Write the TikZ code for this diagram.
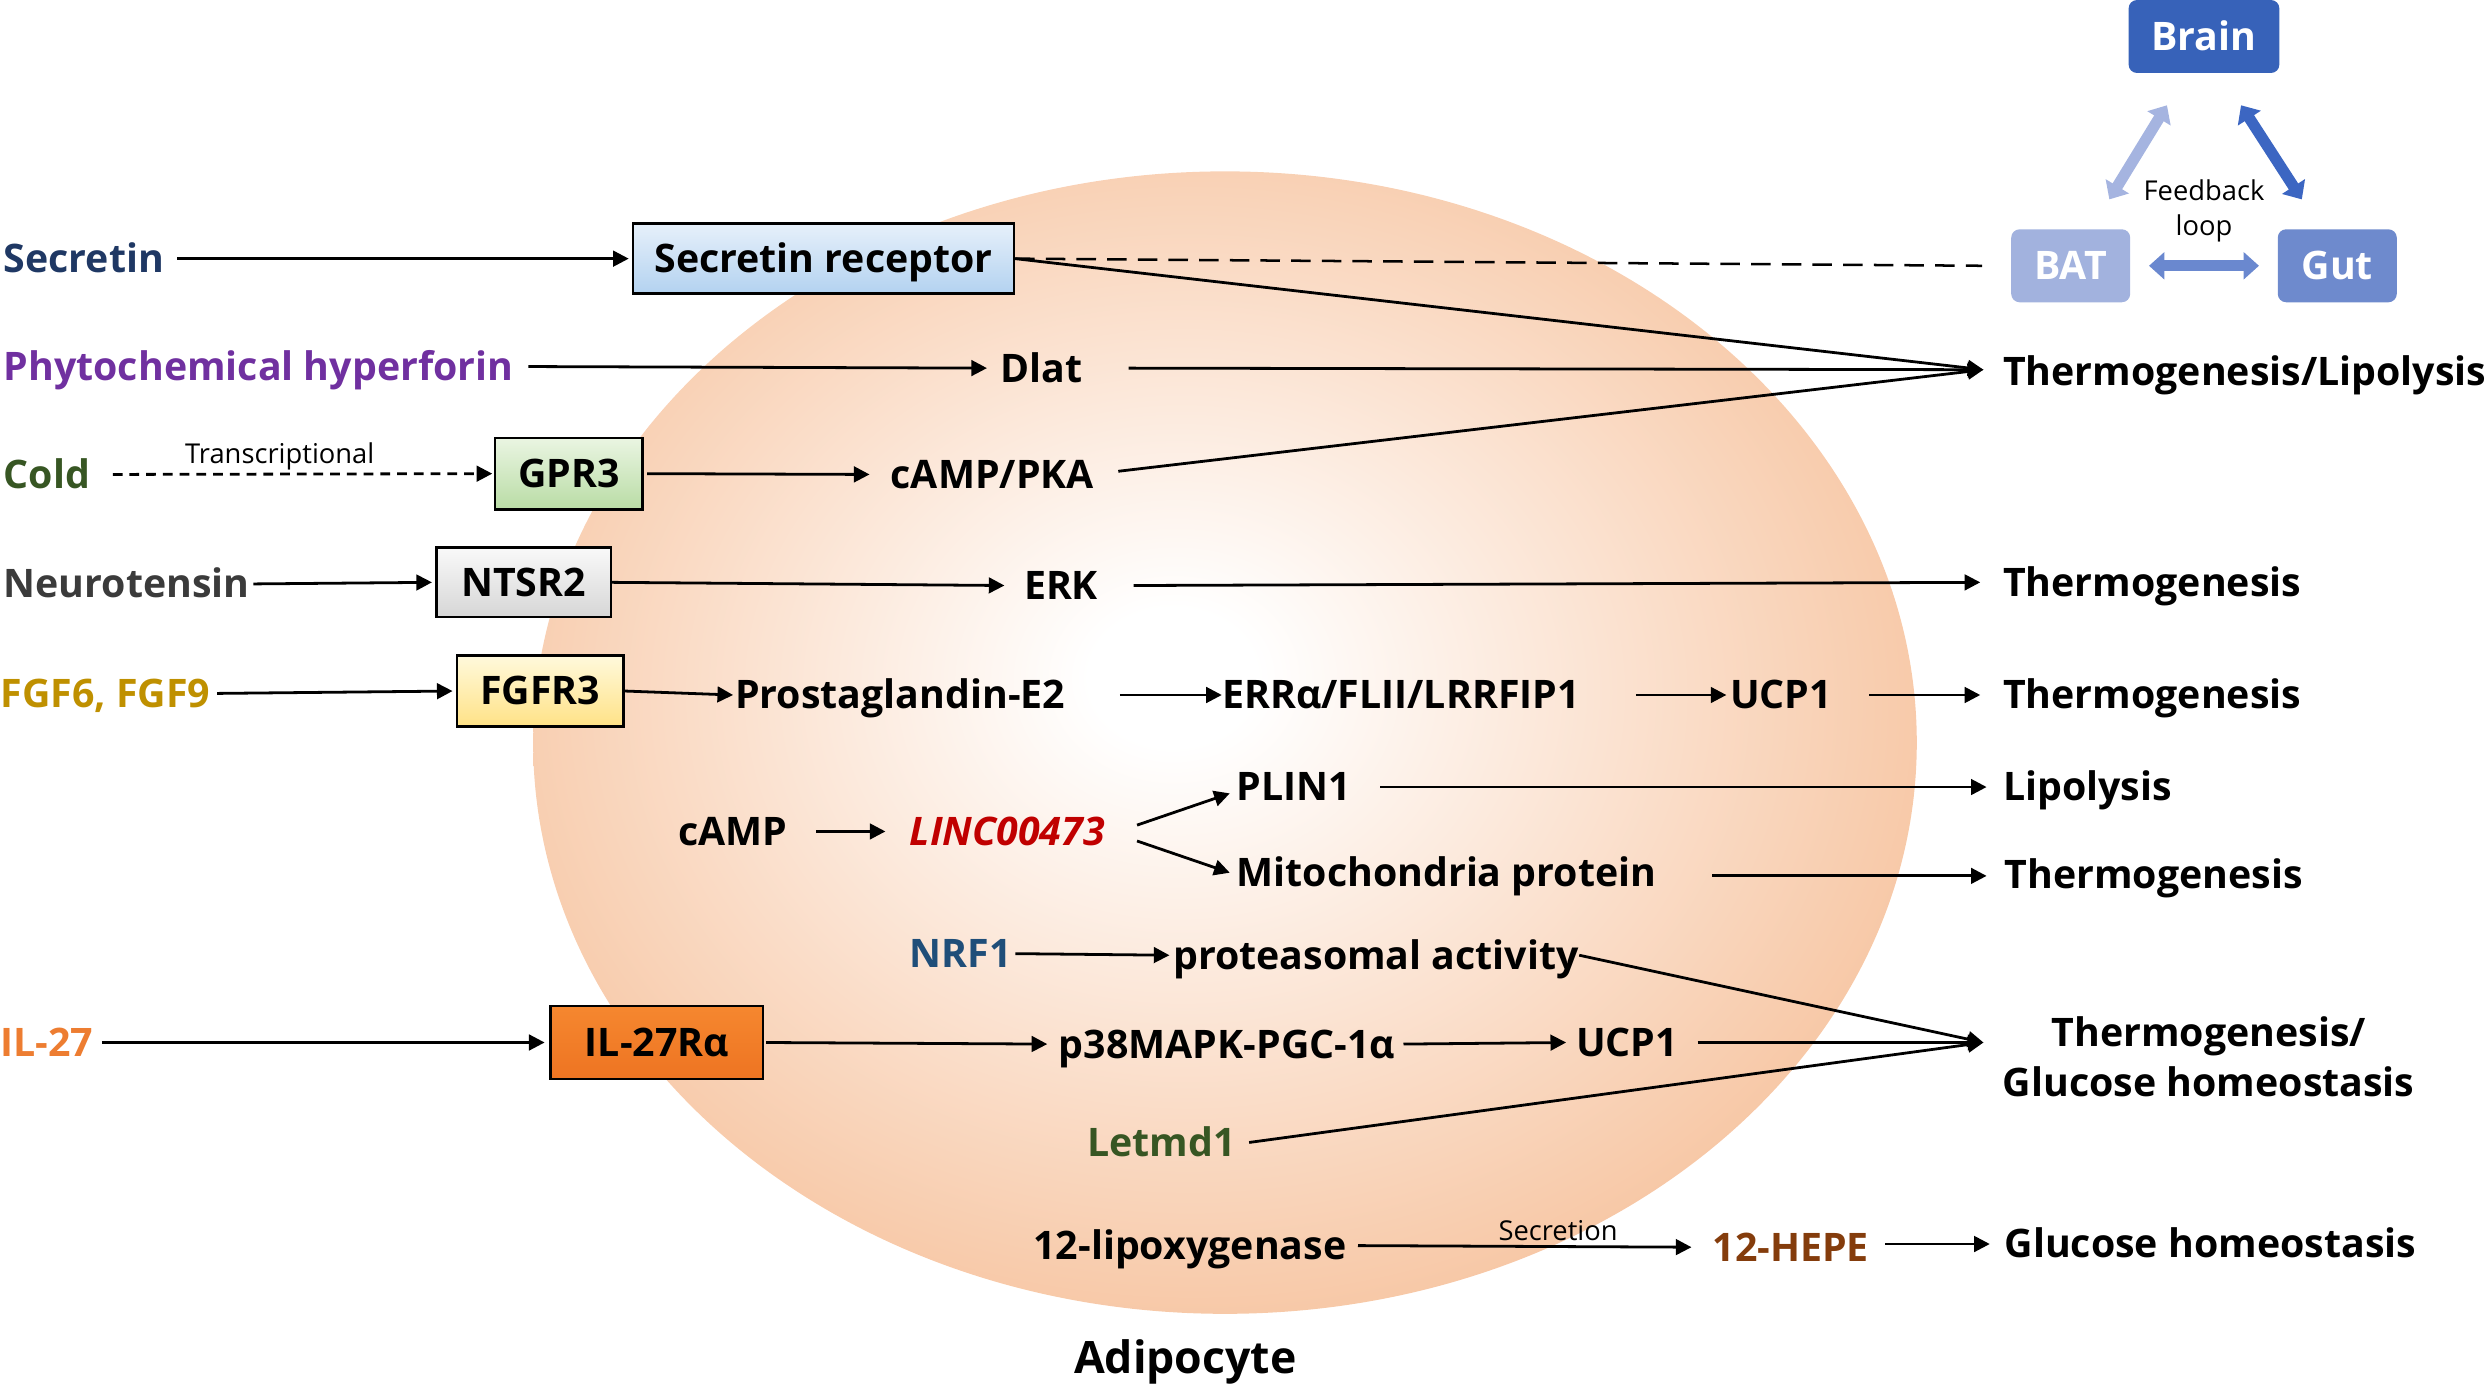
\documentclass[tikz,border=0pt]{standalone}
\usepackage{fontspec}
\setmainfont{Open Sans}
\usetikzlibrary{arrows.meta,calc}
\definecolor{peach}{HTML}{F6BF98}
\definecolor{peachdk}{HTML}{F4B88D}
\definecolor{cnavy}{HTML}{1F3864}
\definecolor{cpurple}{HTML}{7030A0}
\definecolor{cgreen}{HTML}{375623}
\definecolor{cgray}{HTML}{3B3B3B}
\definecolor{cgold}{HTML}{BF9000}
\definecolor{cred}{HTML}{C00000}
\definecolor{cblue}{HTML}{1F4E79}
\definecolor{corange}{HTML}{ED7D31}
\definecolor{cbrown}{HTML}{843C0C}
\definecolor{brainc}{HTML}{3762B9}
\definecolor{batc}{HTML}{A2B2DE}
\definecolor{gutc}{HTML}{6E8ACD}
\definecolor{arrbat}{HTML}{A5B4E0}
\definecolor{arrgut}{HTML}{3C66C2}
\definecolor{arrbg}{HTML}{6A88CF}
\definecolor{srtop}{HTML}{E6F0FA}
\definecolor{srbot}{HTML}{B3D2F0}
\definecolor{gptop}{HTML}{EAF5E2}
\definecolor{gpbot}{HTML}{B9DCA5}
\definecolor{nttop}{HTML}{F9F9F9}
\definecolor{ntbot}{HTML}{D6D6D6}
\definecolor{fgtop}{HTML}{FFF9DC}
\definecolor{fgbot}{HTML}{FFE286}
\definecolor{iltop}{HTML}{F5872F}
\definecolor{ilbot}{HTML}{EE7422}
\pgfdeclareradialshading{adipo}{\pgfpoint{-2bp}{3bp}}{color(0bp)=(white); color(3bp)=(white); color(31bp)=(peach); color(36bp)=(peachdk); color(60bp)=(peachdk)}
\newcommand\labfont{\fontsize{14.1}{16}\selectfont\bfseries}
\newcommand\smallfont{\fontsize{9.8}{12.5}\selectfont}
\begin{document}
\begin{tikzpicture}[x=0.02cm,y=-0.02cm,
  lab/.style={inner sep=0pt, anchor=west, font=\labfont, text height=10pt, text depth=0pt},
  box/.style={draw=black, line width=0.9pt, inner sep=0pt, font=\labfont, text height=10pt, text depth=0pt},
  fbox/.style={rounded corners=3pt, inner sep=0pt, font=\labfont, text=white, text height=10pt, text depth=0pt, minimum height=0.92cm},
  smalllab/.style={inner sep=0pt, font=\smallfont},
  arr/.style={-{Triangle[length=5.6pt,width=5.6pt]}, line width=1pt},
  ln/.style={line width=1pt},
  fb/.style={{Triangle[length=5.5pt,width=9.5pt]}-{Triangle[length=5.5pt,width=9.5pt]}, line width=4pt}
]
\useasboundingbox (0,0) rectangle (1568,876);
\shade[shading=adipo] (772,468) ellipse [x radius=436, y radius=360];

% feedback loop
\node[fbox, fill=brainc, minimum width=1.9cm] (brain) at (1389,23) {Brain};
\node[fbox, fill=batc, minimum width=1.5cm] (bat) at (1305,167.5) {BAT};
\node[fbox, fill=gutc, minimum width=1.5cm] (gut) at (1473,167.5) {Gut};
\node[smalllab, align=center] (fbl) at (1389,133) {Feedback\\loop};
\draw[fb, arrbat] ($(bat.north east)+(-13.5,-18.5)$) -- ($(brain.south west)+(24.5,20)$);
\draw[fb, arrgut] ($(brain.south east)+(-24.5,20)$) -- ($(gut.north west)+(15.5,-18.5)$);
\draw[fb, arrbg] ($(bat.east)+(11.5,0)$) -- ($(gut.west)+(-11.5,0)$);

% row 1
\node[lab, text=cnavy] (secretin) at (2,163) {Secretin};
\node[box, top color=srtop, bottom color=srbot, minimum width=4.8cm, minimum height=0.88cm] (srec) at (519,163) {Secretin receptor};
% row 2
\node[lab, text=cpurple] (hyper) at (2,231) {Phytochemical hyperforin};
\node[lab] (dlat) at (630,232) {Dlat};
\node[lab] (tl) at (1262,234) {Thermogenesis/Lipolysis};
\coordinate (tlin) at ($(tl.west)+(-12,-1)$);
% row 3
\node[lab, text=cgreen] (cold) at (2,299) {Cold};
\node[box, top color=gptop, bottom color=gpbot, minimum width=1.86cm, minimum height=0.9cm] (gpr3) at (358.5,298.5) {GPR3};
\node[lab] (camppka) at (561,299) {cAMP/PKA};
% row 4
\node[lab, text=cgray] (neuro) at (2,368) {Neurotensin};
\node[box, top color=nttop, bottom color=ntbot, minimum width=2.2cm, minimum height=0.88cm] (ntsr2) at (330,367) {NTSR2};
\node[lab] (erk) at (645,369) {ERK};
\node[lab] (thermoA) at (1262,367) {Thermogenesis};
% row 5
\node[lab, text=cgold] (fgf) at (0,437) {FGF6, FGF9};
\node[box, top color=fgtop, bottom color=fgbot, minimum width=2.1cm, minimum height=0.9cm] (fgfr3) at (340.5,435.5) {FGFR3};
\node[lab] (pge2) at (463,438) {Prostaglandin-E2};
\node[lab] (err) at (770,438) {ERRα/FLII/LRRFIP1};
\node[lab] (ucpA) at (1090,438) {UCP1};
\node[lab] (thermoB) at (1262,438) {Thermogenesis};
% row 6
\node[lab] (camp) at (427,524) {cAMP};
\node[lab, text=cred, font=\labfont\itshape] (linc) at (573,524) {LINC00473};
\node[lab] (plin1) at (779,496) {PLIN1};
\node[lab] (lipo) at (1262,496) {Lipolysis};
\node[lab] (mito) at (779,550) {Mitochondria protein};
\node[lab] (thermoC) at (1263,551) {Thermogenesis};
% row 7
\node[lab, text=cblue] (nrf1) at (573,601) {NRF1};
\node[lab] (proteo) at (739,602) {proteasomal activity};
% row 8
\node[lab, text=corange] (il27) at (0,657) {IL-27};
\node[box, top color=iltop, bottom color=ilbot, minimum width=2.68cm, minimum height=0.92cm] (il27r) at (414,657) {IL-27Rα};
\node[lab] (p38) at (667,658) {p38MAPK-PGC-1α};
\node[lab] (ucpB) at (993,657) {UCP1};
\node[inner sep=0pt, font=\labfont, align=center] (tg) at (1392,666) {Thermogenesis/\\[2pt]Glucose homeostasis};
\coordinate (tgin) at (1250,657);
% row 9
\node[lab, text=cgreen] (letmd1) at (685,720) {Letmd1};
% row 10
\node[lab] (lox) at (651,785) {12-lipoxygenase};
\node[lab, text=cbrown] (hepe) at (1079,786) {12-HEPE};
\node[lab] (glu) at (1263,784) {Glucose homeostasis};
\node[inner sep=0pt, font=\fontsize{16}{18}\selectfont\bfseries] (adipocyte) at (747,858) {Adipocyte};

% connectors
\draw[arr] ($(secretin.east)+(8,0)$) -- ($(srec.west)+(-2,0)$);
\draw[arr] (srec.east) -- (tlin);
\draw[ln, dash pattern=on 7pt off 4pt, line width=0.9pt] (srec.east) -- ($(bat.west)+(-18,0)$);
\draw[arr] ($(hyper.east)+(9,0)$) -- ($(dlat.west)+(-8,0)$);
\draw[arr] ($(dlat.east)+(29,0)$) -- (tlin);
\draw[arr, dash pattern=on 3.5pt off 2.5pt] ($(cold.east)+(14,0)$) -- ($(gpr3.west)+(-1,0)$)
  node[smalllab, pos=0.44, above=1pt] (transc) {Transcriptional};
\draw[arr] ($(gpr3.east)+(2,0)$) -- ($(camppka.west)+(-13,0)$);
\draw[arr] ($(camppka.east)+(15,-2)$) -- (tlin);
\draw[arr] ($(neuro.east)+(2,0)$) -- ($(ntsr2.west)+(-2,0)$);
\draw[arr] (ntsr2.east) -- ($(erk.west)+(-12,0)$);
\draw[arr] ($(erk.east)+(22,0)$) -- ($(thermoA.west)+(-14,0)$);
\draw[arr] ($(fgf.east)+(4,0)$) -- ($(fgfr3.west)+(-2,0)$);
\draw[arr] (fgfr3.east) -- ($(pge2.west)+(-1,0)$);
\draw[arr] ($(pge2.east)+(34,0)$) -- (err.west);
\draw[arr] ($(err.east)+(35,0)$) -- ($(ucpA.west)+(-2,0)$);
\draw[arr] ($(ucpA.east)+(23,0)$) -- ($(thermoB.west)+(-14,0)$);
\draw[arr] ($(camp.east)+(18,0)$) -- ($(linc.west)+(-15,0)$);
\draw[arr] ($(linc.east)+(20,-4)$) -- ($(plin1.west)+(-4,4)$);
\draw[arr] ($(linc.east)+(20,6)$) -- ($(mito.west)+(-4,0)$);
\draw[arr] ($(plin1.east)+(18,0)$) -- ($(lipo.west)+(-10,0)$);
\draw[arr] ($(mito.east)+(35,2)$) -- ($(thermoC.west)+(-11,1)$);
\draw[arr] ($(nrf1.east)+(2,0)$) -- ($(proteo.west)+(-2,0)$);
\draw[arr] (proteo.east) -- (tgin);
\draw[arr] ($(il27.east)+(5,0)$) -- ($(il27r.west)+(-3,0)$);
\draw[arr] ($(il27r.east)+(1,0)$) -- ($(p38.west)+(-7,0)$);
\draw[arr] ($(p38.east)+(5,0)$) -- ($(ucpB.west)+(-6,0)$);
\draw[arr] ($(ucpB.east)+(12,0)$) -- (tgin);
\draw[arr] ($(letmd1.east)+(8,0)$) -- (tgin);
\draw[arr] ($(lox.east)+(7,0)$) -- ($(hepe.west)+(-13,0)$)
  node[smalllab, pos=0.6, above=1.5pt] (secr) {Secretion};
\draw[arr] ($(hepe.east)+(10,-2)$) -- ($(glu.west)+(-9,0)$);
\end{tikzpicture}
\end{document}
